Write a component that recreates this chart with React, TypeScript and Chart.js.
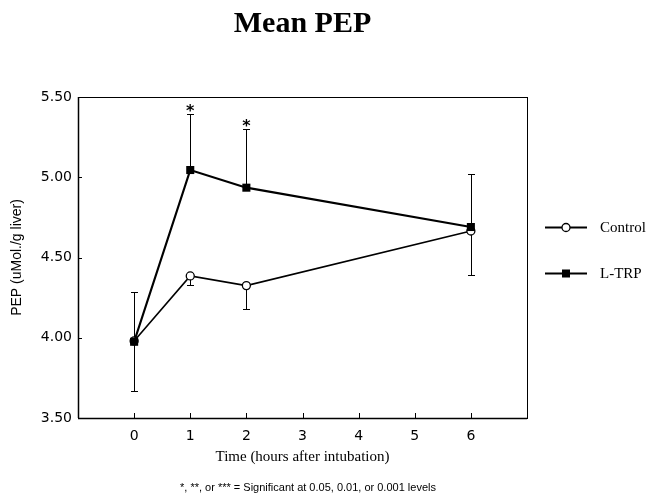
import React, { useEffect, useRef } from "react";
import { Chart, registerables } from "chart.js";

Chart.register(...registerables);

const hours = [0, 1, 2, 6];
const controlMean = [3.98, 4.385, 4.325, 4.665];
const ltrpMean = [3.975, 5.045, 4.935, 4.69];
// one-sided error bars: L-TRP drawn upward, Control drawn downward
const ltrpErr = [0.31, 0.35, 0.365, 0.33];
const controlErr = [0.31, 0.055, 0.145, 0.275];
const ltrpSig = ["", "*", "*", ""];
const xTickValues = [0, 1, 2, 3, 4, 5, 6];
const yTickValues = [3.5, 4.0, 4.5, 5.0, 5.5];

const seriesNames = ["Control", "L-TRP"];
const titleText = "Mean PEP";
const xTitle = "Time (hours after intubation)";
const yTitle = "PEP (uMol./g liver)";
const footnote = "*, **, or *** = Significant at 0.05, 0.01, or 0.001 levels";

const overlay = {
  id: "overlay",
  beforeDatasetsDraw(chart: any) {
    const { ctx, chartArea: a } = chart;
    const x = chart.scales.x;
    const y = chart.scales.y;
    ctx.save();
    ctx.strokeStyle = "#000";
    ctx.lineWidth = 1;
    ctx.strokeRect(Math.round(a.left) + 0.5, Math.round(a.top) + 0.5, Math.round(a.right - a.left), Math.round(a.bottom - a.top));
    ctx.beginPath();
    ctx.lineWidth = 1.5;
    ctx.moveTo(a.left, Math.round(a.bottom) + 0.5);
    ctx.lineTo(a.right, Math.round(a.bottom) + 0.5);
    ctx.moveTo(Math.round(a.left) + 0.5, a.top);
    ctx.lineTo(Math.round(a.left) + 0.5, a.bottom);
    ctx.stroke();
    // inside ticks
    ctx.lineWidth = 1;
    ctx.beginPath();
    yTickValues.forEach((v) => {
      const py = Math.round(y.getPixelForValue(v)) + 0.5;
      ctx.moveTo(a.left, py);
      ctx.lineTo(a.left + 4, py);
    });
    xTickValues.forEach((v) => {
      const px = Math.round(x.getPixelForValue(v)) + 0.5;
      ctx.moveTo(px, a.bottom);
      ctx.lineTo(px, a.bottom - 5);
    });
    ctx.stroke();
    // error bars
    const cap = 3.5;
    ctx.beginPath();
    hours.forEach((h, i) => {
      const px = Math.round(x.getPixelForValue(h)) + 0.5;
      const y0 = y.getPixelForValue(ltrpMean[i]);
      const y1 = Math.round(y.getPixelForValue(ltrpMean[i] + ltrpErr[i])) + 0.5;
      ctx.moveTo(px, y0);
      ctx.lineTo(px, y1);
      ctx.moveTo(px - cap, y1);
      ctx.lineTo(px + cap, y1);
      const c0 = y.getPixelForValue(controlMean[i]);
      const c1 = Math.round(y.getPixelForValue(controlMean[i] - controlErr[i])) + 0.5;
      ctx.moveTo(px, c0);
      ctx.lineTo(px, c1);
      ctx.moveTo(px - cap, c1);
      ctx.lineTo(px + cap, c1);
    });
    ctx.stroke();
    // significance marks
    ctx.fillStyle = "#000";
    ctx.font = "bold 16px 'DejaVu Sans'";
    ctx.textAlign = "center";
    ctx.textBaseline = "alphabetic";
    hours.forEach((h, i) => {
      if (!ltrpSig[i]) return;
      const px = x.getPixelForValue(h);
      const py = y.getPixelForValue(ltrpMean[i] + ltrpErr[i]);
      ctx.fillText(ltrpSig[i], px, py + 2);
    });
    ctx.restore();
  },
  afterDraw(chart: any) {
    const { ctx, chartArea: a } = chart;
    ctx.save();
    // legend
    const lx0 = a.right + 18;
    const lx1 = a.right + 60;
    const mx = (lx0 + lx1) / 2;
    const rows = [227, 273];
    ctx.strokeStyle = "#000";
    ctx.fillStyle = "#000";
    ctx.lineWidth = 1.8;
    rows.forEach((ry, i) => {
      ctx.beginPath();
      ctx.moveTo(lx0, ry + 0.5);
      ctx.lineTo(lx1, ry + 0.5);
      ctx.stroke();
      if (i === 0) {
        ctx.beginPath();
        ctx.fillStyle = "#fff";
        ctx.lineWidth = 1.3;
        ctx.arc(mx, ry + 0.5, 4, 0, Math.PI * 2);
        ctx.fill();
        ctx.stroke();
        ctx.lineWidth = 1.8;
      } else {
        ctx.fillStyle = "#000";
        ctx.fillRect(mx - 4, ry - 3.5, 8, 8);
      }
      ctx.fillStyle = "#000";
      ctx.font = "15px 'Liberation Serif'";
      ctx.textAlign = "left";
      ctx.textBaseline = "middle";
      ctx.fillText(seriesNames[i], a.right + 73, ry + 1);
    });
    // footnote
    ctx.font = "11px 'Liberation Sans'";
    ctx.textAlign = "center";
    ctx.textBaseline = "middle";
    ctx.fillText(footnote, 308, 488);
    ctx.restore();
  },
};

export default function App() {
  const ref = useRef<HTMLCanvasElement>(null);
  useEffect(() => {
    if (!ref.current) return;
    const chart = new Chart(ref.current, {
      type: "line",
      data: {
        datasets: [
          {
            label: seriesNames[0],
            order: 1,
            data: hours.map((h, i) => ({ x: h, y: controlMean[i] })),
            borderColor: "#000",
            borderWidth: 1.6,
            pointStyle: "circle",
            pointRadius: 4,
            pointBackgroundColor: "#fff",
            pointBorderColor: "#000",
            pointBorderWidth: 1.3,
            tension: 0,
          },
          {
            label: seriesNames[1],
            order: 0,
            data: hours.map((h, i) => ({ x: h, y: ltrpMean[i] })),
            borderColor: "#000",
            borderWidth: 2.2,
            pointStyle: "rect",
            pointRadius: 5.7,
            pointBackgroundColor: "#000",
            pointBorderColor: "#000",
            pointBorderWidth: 0,
            tension: 0,
          },
        ],
      },
      options: {
        responsive: false,
        animation: false,
        layout: { padding: { left: 0, right: 136, top: 0, bottom: 0 } },
        plugins: {
          legend: { display: false },
          tooltip: { enabled: false },
          title: {
            display: true,
            text: titleText,
            fullSize: false,
            color: "#000",
            font: { family: "'Liberation Serif'", size: 30, weight: "bold" },
            padding: { top: 6, bottom: 55 },
          },
        },
        scales: {
          x: {
            type: "linear",
            min: -1,
            max: 7,
            afterFit: (s: any) => {
              s.height = 76;
            },
            afterBuildTicks: (s: any) => {
              s.ticks = xTickValues.map((v) => ({ value: v }));
            },
            ticks: {
              color: "#000",
              font: { family: "'DejaVu Sans'", size: 14 },
              padding: 10,
              maxRotation: 0,
              callback: (v: any) => String(v),
            },
            grid: { display: false, drawTicks: false },
            border: { display: false },
            title: {
              display: true,
              text: xTitle,
              color: "#000",
              font: { family: "'Liberation Serif'", size: 15 },
              padding: { top: 4, bottom: 28 },
            },
          },
          y: {
            min: 3.5,
            max: 5.5,
            afterFit: (s: any) => {
              s.width = 78;
            },
            afterBuildTicks: (s: any) => {
              s.ticks = yTickValues.map((v) => ({ value: v }));
            },
            ticks: {
              color: "#000",
              font: { family: "'DejaVu Sans'", size: 14 },
              padding: 6,
              callback: (v: any) => Number(v).toFixed(2),
            },
            grid: { display: false, drawTicks: false },
            border: { display: false },
            title: {
              display: true,
              text: yTitle,
              color: "#000",
              font: { family: "'Liberation Sans'", size: 14 },
              padding: { top: 9, bottom: 9 },
            },
          },
        },
      },
      plugins: [overlay],
    });
    return () => chart.destroy();
  }, []);
  return (
    <div style={{ position: "absolute", left: 0, top: 0, width: 663, height: 494, background: "#fff" }}>
      <canvas ref={ref} width={663} height={494} />
    </div>
  );
}
